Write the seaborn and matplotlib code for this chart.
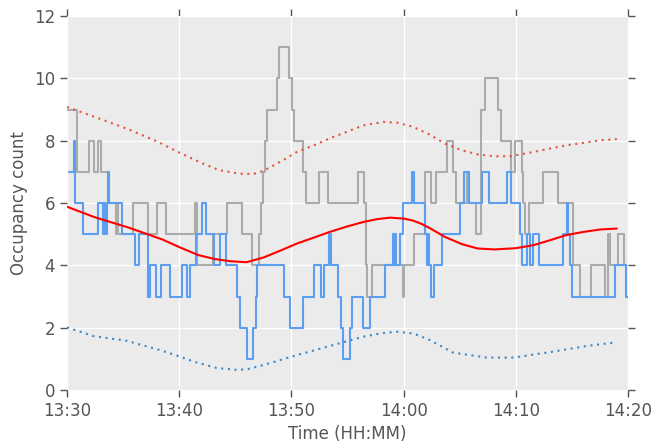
import matplotlib
matplotlib.use("Agg")
import matplotlib.pyplot as plt
import seaborn as sns
import pandas as pd

# x positions are minutes after 13:30
tick_minutes = [0, 10, 20, 30, 40, 50]
tick_labels = ["13:30", "13:40", "13:50", "14:00", "14:10", "14:20"]
y_ticks = [0, 2, 4, 6, 8, 10, 12]

gray_t = [0, 0.9, 1.99, 2.38, 2.73, 3.06, 3.65, 4.34, 4.5, 4.57, 5.91, 7.25, 7.99,
          8.79, 11.41, 11.56, 13.04, 14.3, 15.6, 16.5, 17.14, 17.26, 17.44, 17.62,
          17.8, 18.69, 18.89, 19.79, 20.08, 20.23, 21.0, 21.3, 22.49, 23.29, 25.97,
          26.47, 26.62, 26.77, 27.16, 29.92, 30.04, 30.96, 31.91, 32.44, 32.86, 33.84,
          34.43, 34.67, 35.62, 35.83, 36.45, 36.9, 37.25, 38.4, 38.7, 39.57, 39.93,
          40.52, 40.67, 40.8, 41.2, 42.45, 43.79, 45.07, 45.7, 46.67, 47.95, 48.25,
          48.4, 49.1, 49.64, 49.85, 50]
gray_v = [9, 7, 8, 7, 8, 7, 6, 5, 6, 5, 6, 5, 6,
          5, 6, 4, 5, 6, 5, 4, 5, 6, 7, 8,
          9, 10, 11, 10, 9, 8, 7, 6, 7, 6, 7,
          6, 4, 3, 4, 3, 4, 5, 7, 6, 7, 8,
          7, 6, 7, 6, 5, 9, 10, 9, 8, 7, 8,
          7, 6, 5, 6, 7, 6, 4, 3, 4, 3, 5,
          4, 5, 4, 3, 3]

blue_t = [0.2, 0.6, 0.74, 1.4, 2.76, 3.18, 3.3, 3.4, 3.56, 3.66, 3.72, 4.87, 6.06,
          6.45, 7.25, 7.4, 7.93, 8.38, 9.18, 10.22, 10.67, 10.96, 11.47, 12.06, 12.36,
          13.13, 13.64, 14.14, 15.18, 15.42, 16.01, 16.6, 16.84, 16.96, 19.34, 19.88,
          21.06, 22.01, 22.61, 22.9, 23.38, 23.56, 24.18, 24.39, 24.57, 25.22, 25.37,
          26.41, 27.0, 28.34, 29.08, 29.15, 29.25, 29.3, 29.68, 29.97, 30.72, 30.96,
          31.91, 32.05, 32.15, 32.25, 32.44, 32.74, 33.39, 35.03, 35.38, 35.86, 36.99,
          37.61, 39.19, 39.55, 40.37, 40.52, 41.0, 41.3, 41.56, 42.1, 44.18, 44.53,
          44.68, 44.85, 44.98, 48.84, 49.82, 50]
blue_v = [7, 8, 6, 5, 6, 5, 6, 5, 6, 7, 6, 5, 4,
          5, 3, 4, 3, 4, 3, 4, 3, 4, 5, 6, 5,
          4, 5, 4, 3, 2, 1, 2, 3, 4, 3, 2,
          3, 4, 3, 4, 5, 4, 3, 2, 1, 2, 3,
          2, 3, 4, 5, 4, 5, 4, 5, 6, 7, 6,
          5, 4, 5, 4, 3, 4, 5, 6, 7, 6, 7,
          6, 7, 6, 5, 4, 5, 4, 5, 4, 5, 6,
          5, 4, 3, 4, 3, 3]

mean_t = [0, 2.5, 5.5, 8.5, 10.1, 11.7, 13.2, 14.6, 16.0, 17.5, 19.0, 20.5, 22.0,
          23.4, 24.9, 26.4, 27.6, 28.8, 30.0, 30.8, 31.6, 32.3, 33.7, 35.2, 36.6,
          38.1, 40.0, 41.6, 43.0, 44.5, 46.0, 47.5, 49.0]
mean_v = [5.88, 5.54, 5.21, 4.83, 4.57, 4.33, 4.2, 4.13, 4.1, 4.25, 4.47, 4.7, 4.89,
          5.07, 5.24, 5.39, 5.48, 5.53, 5.5, 5.44, 5.33, 5.2, 4.91, 4.68, 4.54,
          4.51, 4.55, 4.65, 4.8, 4.97, 5.07, 5.15, 5.18]

upper_t = [0, 2.5, 5.5, 8.0, 10.0, 12.0, 13.6, 15.4, 16.6, 17.5, 19.0, 20.5, 22.0,
           23.4, 24.9, 26.4, 28.2, 29.4, 30.8, 32.3, 33.7, 35.2, 36.6, 38.1, 39.5,
           41.6, 44.5, 47.5, 49.0]
upper_v = [9.08, 8.76, 8.36, 7.98, 7.62, 7.28, 7.05, 6.94, 6.93, 7.03, 7.32, 7.64, 7.85,
           8.07, 8.28, 8.49, 8.6, 8.58, 8.45, 8.2, 7.9, 7.69, 7.56, 7.5, 7.5,
           7.64, 7.85, 8.01, 8.05]

lower_t = [0, 2.35, 5.3, 8.3, 10.0, 11.3, 13.3, 15.0, 16.0, 17.5, 20.5, 23.4, 26.4,
           28.0, 29.4, 30.9, 32.35, 34.4, 37.4, 39.8, 43.3, 46.3, 48.7, 49.0]
lower_v = [2.01, 1.73, 1.58, 1.28, 1.08, 0.91, 0.71, 0.65, 0.66, 0.8, 1.12, 1.41, 1.71,
           1.82, 1.87, 1.81, 1.6, 1.2, 1.04, 1.04, 1.23, 1.41, 1.52, 1.54]

sns.set_style("darkgrid", {
    "axes.facecolor": "#EBEBEB",
    "grid.color": "white",
    "axes.edgecolor": "white",
})
plt.rcParams["font.family"] = ["DejaVu Sans"]

fig = plt.figure(figsize=(6.54, 4.46), dpi=100)
ax = fig.add_axes([67 / 654, 1 - 390 / 446, (628 - 67) / 654, (390 - 16) / 446])

gray_df = pd.DataFrame({"t": gray_t, "v": gray_v})
blue_df = pd.DataFrame({"t": blue_t, "v": blue_v})
mean_df = pd.DataFrame({"t": mean_t, "v": mean_v})
upper_df = pd.DataFrame({"t": upper_t, "v": upper_v})
lower_df = pd.DataFrame({"t": lower_t, "v": lower_v})

sns.lineplot(data=gray_df, x="t", y="v", ax=ax, estimator=None, sort=False,
             drawstyle="steps-post", color="#ababab", lw=1.5)
sns.lineplot(data=blue_df, x="t", y="v", ax=ax, estimator=None, sort=False,
             drawstyle="steps-post", color="#5c9ff0", lw=1.5)
sns.lineplot(data=mean_df, x="t", y="v", ax=ax, estimator=None, sort=False,
             color="#ff0000", lw=1.5)
sns.lineplot(data=upper_df, x="t", y="v", ax=ax, estimator=None, sort=False,
             color="#e5533d", lw=1.5, linestyle=(0, (1, 2.2)))
sns.lineplot(data=lower_df, x="t", y="v", ax=ax, estimator=None, sort=False,
             color="#3a88c8", lw=1.5, linestyle=(0, (1, 2.2)))

ax.set_xlim(0, 50)
ax.set_ylim(0, 12)
ax.set_xticks(tick_minutes)
ax.set_xticklabels(tick_labels)
ax.set_yticks(y_ticks)
ax.grid(True, color="white", lw=1)
for s in ax.spines.values():
    s.set_visible(False)
ax.tick_params(axis="both", which="both", direction="out", length=5, width=1,
               color="#555555", labelcolor="#555555", labelsize=12,
               top=True, right=True, bottom=True, left=True,
               labeltop=False, labelright=False)
ax.set_xlabel("Time (HH:MM)", fontsize=12, color="#555555")
ax.set_ylabel("Occupancy count", fontsize=12, color="#555555")

fig.savefig("out.png", dpi=100)
